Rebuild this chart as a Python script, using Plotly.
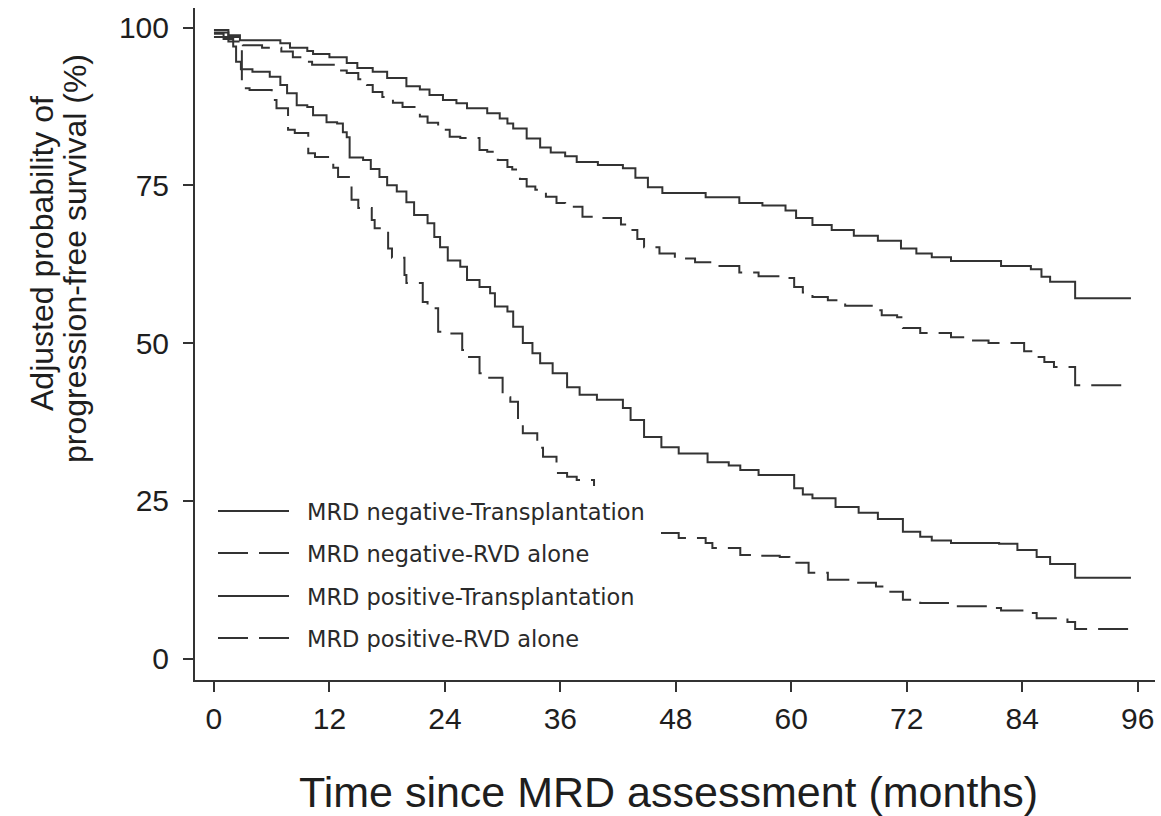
import plotly.graph_objects as go

# ---- data ----
months_neg_tx = [0, 1.5, 2.7, 6.9, 7.9, 9.7, 10.3, 12.0, 13.8, 14.9, 16.5, 18.0, 20.0, 21.4, 22.4,
                 23.8, 25.2, 26.3, 28.4, 29.7, 30.5, 31.1, 32.5, 33.9, 35.0, 36.5, 37.7, 39.9, 42.5,
                 43.8, 45.1, 46.6, 51.1, 54.6, 57.0, 59.4, 60.5, 62.2, 64.2, 66.5, 69.0, 71.4, 73.0,
                 74.6, 76.6, 81.8, 84.9, 86.0, 86.9, 89.5, 95.3]
pfs_neg_tx = [99.6, 98.8, 98.0, 97.5, 96.8, 96.3, 95.8, 95.3, 94.4, 93.6, 93.0, 92.0, 90.7, 90.2, 89.3,
              88.5, 88.0, 87.2, 86.4, 85.6, 84.8, 84.0, 82.4, 81.0, 80.2, 79.6, 78.7, 78.2, 77.7,
              76.2, 74.7, 73.8, 73.1, 72.2, 71.8, 71.0, 69.8, 68.7, 67.9, 67.0, 66.2, 65.0, 64.2,
              63.6, 63.0, 62.2, 61.7, 60.5, 59.7, 57.1, 57.1]

months_neg_rvd = [0, 1.5, 3.0, 5.0, 7.0, 8.2, 9.5, 10.2, 13.1, 13.8, 15.0, 15.9, 16.5, 17.5, 18.6,
                  19.6, 21.4, 22.2, 23.3, 24.5, 25.6, 27.6, 28.4, 29.5, 30.5, 31.0, 31.8, 32.5, 33.4,
                  34.5, 35.6, 36.5, 38.3, 39.9, 42.3, 43.1, 44.0, 44.7, 46.3, 47.9, 50.0, 51.8, 54.6,
                  56.6, 59.6, 60.3, 61.2, 62.2, 63.8, 65.6, 68.6, 69.4, 71.0, 71.6, 73.4, 76.6, 78.5,
                  80.5, 84.2, 85.3, 86.3, 87.3, 89.5, 94.8]
pfs_neg_rvd = [99.2, 98.5, 97.2, 96.8, 96.2, 95.3, 94.6, 94.1, 93.2, 92.8, 91.8, 90.9, 89.8, 89.0, 88.1,
               87.4, 85.9, 84.9, 83.8, 82.7, 82.5, 80.6, 80.3, 79.0, 77.9, 77.5, 76.0, 74.8, 74.3,
               73.2, 72.2, 71.6, 70.0, 69.8, 68.8, 67.9, 66.5, 65.2, 64.2, 63.4, 62.8, 62.2, 61.2,
               60.6, 60.3, 58.9, 58.0, 57.3, 56.8, 55.9, 55.2, 54.4, 54.1, 52.4, 51.6, 50.9, 50.4,
               50.0, 48.7, 47.8, 47.0, 46.2, 43.3, 43.3]

months_pos_tx = [0, 1.0, 2.0, 2.3, 2.8, 4.0, 5.8, 6.9, 7.6, 8.6, 9.7, 10.3, 11.7, 12.8, 13.4, 13.8,
                 14.1, 15.5, 16.3, 17.2, 18.0, 19.0, 20.0, 20.8, 22.2, 22.9, 23.5, 24.3, 25.6, 26.3,
                 27.6, 28.7, 29.2, 30.5, 31.1, 32.1, 33.1, 33.9, 35.2, 36.7, 38.0, 39.8, 42.5, 43.3,
                 44.7, 46.5, 48.3, 51.3, 53.5, 54.7, 56.6, 60.3, 61.2, 62.2, 64.6, 67.0, 69.0, 71.6,
                 73.4, 74.6, 76.6, 81.6, 83.5, 85.5, 86.9, 89.5, 95.3]
pfs_pos_tx = [99.0, 98.2, 97.0, 94.6, 93.4, 93.0, 92.2, 90.9, 89.6, 87.7, 87.4, 86.1, 85.0, 84.8, 83.4,
              82.6, 79.4, 79.0, 77.6, 76.3, 75.0, 74.0, 72.3, 70.3, 69.0, 66.8, 65.2, 63.1, 62.1,
              60.0, 58.9, 57.9, 55.8, 55.0, 52.6, 50.0, 48.4, 46.8, 45.2, 43.0, 41.8, 41.0, 39.7,
              37.8, 35.1, 33.5, 32.5, 31.1, 30.6, 29.9, 29.1, 27.0, 26.0, 25.4, 24.0, 23.1, 22.1,
              20.1, 19.3, 18.7, 18.3, 18.2, 17.2, 16.1, 15.0, 12.8, 12.8]

months_pos_rvd = [0, 1.5, 2.9, 3.7, 6.0, 6.5, 7.7, 8.4, 9.8, 10.5, 12.4, 12.9, 14.3, 15.0, 16.4,
                  16.7, 18.1, 18.5, 19.8, 20.0, 21.7, 22.2, 23.3, 24.0, 25.8, 26.1, 27.6, 28.5, 30.0,
                  30.8, 31.6, 32.1, 33.6, 34.2, 35.6, 36.7, 37.7, 39.5, 41.5, 43.5, 45.0, 46.1, 48.3,
                  51.1, 51.8, 54.7, 55.9, 58.8, 59.8, 61.8, 63.8, 66.2, 68.8, 70.0, 71.6, 73.4, 76.6,
                  80.7, 81.8, 84.9, 85.5, 88.7, 89.5, 95.3]
pfs_pos_rvd = [98.5, 97.8, 90.4, 90.1, 88.5, 87.2, 83.8, 83.3, 80.1, 79.5, 77.8, 76.3, 72.7, 71.4, 69.5,
               68.2, 65.0, 63.5, 60.8, 59.5, 56.5, 55.5, 51.8, 51.5, 48.9, 47.8, 45.2, 44.5, 41.4,
               40.7, 37.3, 35.7, 33.4, 32.0, 29.4, 28.8, 28.3, 26.5, 24.0, 22.0, 20.5, 19.9, 19.1,
               18.3, 17.5, 16.4, 16.3, 16.1, 15.2, 13.6, 12.5, 12.0, 11.4, 10.6, 9.3, 8.8, 8.3,
               8.0, 7.6, 7.2, 6.4, 5.8, 4.7, 4.7]

series_names = ["MRD negative-Transplantation", "MRD negative-RVD alone",
                "MRD positive-Transplantation", "MRD positive-RVD alone"]
x_ticks = [0, 12, 24, 36, 48, 60, 72, 84, 96]
y_ticks = [0, 25, 50, 75, 100]

LINE = "#333333"
TXT = "#1e1e1e"
DASH = "30px,11px"
ARIAL = "Arial, Liberation Sans, sans-serif"

series = [
    (series_names[0], months_neg_tx, pfs_neg_tx, "solid"),
    (series_names[1], months_neg_rvd, pfs_neg_rvd, DASH),
    (series_names[2], months_pos_tx, pfs_pos_tx, "solid"),
    (series_names[3], months_pos_rvd, pfs_pos_rvd, DASH),
]

fig = go.Figure()
for name, t, v, dash in series:
    fig.add_trace(go.Scatter(
        x=t, y=v, mode="lines", name=name, showlegend=False,
        line=dict(shape="hv", color=LINE, width=2, dash=dash),
    ))

W, H = 1161, 816
ML, MR, MT, MB = 195, 6, 8, 136
PW, PH = W - ML - MR, H - MT - MB


def px_x(p):
    return (p - ML) / PW


def px_y(p):
    return (H - MB - p) / PH


shapes = []
annotations = []

# custom legend (white box covering the curves, long line samples)
shapes.append(dict(type="rect", xref="paper", yref="paper",
                   x0=px_x(208), x1=px_x(657), y0=px_y(662), y1=px_y(486),
                   fillcolor="white", line=dict(width=0), layer="above"))
row_y = [511, 553, 596, 638]
for (name, _, _, dash), ry in zip(series, row_y):
    shapes.append(dict(type="line", xref="paper", yref="paper",
                       x0=px_x(218), x1=px_x(289), y0=px_y(ry), y1=px_y(ry),
                       line=dict(color=LINE, width=2, dash=dash),
                       layer="above"))
    annotations.append(dict(text=name, xref="paper", yref="paper",
                            x=px_x(305), y=px_y(ry + 1), xanchor="left", yanchor="middle",
                            showarrow=False,
                            font=dict(family="DejaVu Sans", size=22.5, color="#2a2a2a")))

# axis titles
annotations.append(dict(text="Time since MRD assessment (months)", xref="paper", yref="paper",
                        x=px_x(668), y=px_y(792), xanchor="center", yanchor="middle",
                        showarrow=False, font=dict(family=ARIAL, size=43, color=TXT)))
annotations.append(dict(text="Adjusted probability of", xref="paper", yref="paper",
                        x=px_x(42), y=px_y(254), xanchor="center", yanchor="middle",
                        textangle=-90, showarrow=False,
                        font=dict(family=ARIAL, size=32, color=TXT)))
annotations.append(dict(text="progression-free survival (%)", xref="paper", yref="paper",
                        x=px_x(75), y=px_y(259), xanchor="center", yanchor="middle",
                        textangle=-90, showarrow=False,
                        font=dict(family=ARIAL, size=32, color=TXT)))

fig.update_layout(
    width=W, height=H, autosize=False,
    margin=dict(l=ML, r=MR, t=MT, b=MB, pad=0),
    paper_bgcolor="white", plot_bgcolor="white",
    showlegend=False,
    shapes=shapes, annotations=annotations,
    xaxis=dict(range=[-1.97, 97.8], tickvals=x_ticks, ticktext=[str(v) for v in x_ticks],
               ticks="outside", ticklen=10, tickwidth=2, tickcolor=LINE,
               showline=True, linewidth=2, linecolor=LINE,
               showgrid=False, zeroline=False, ticklabelstandoff=1,
               tickfont=dict(family=ARIAL, size=30, color=TXT)),
    yaxis=dict(range=[-3.4, 103.1], tickvals=y_ticks, ticktext=[str(v) for v in y_ticks],
               ticks="outside", ticklen=10, tickwidth=2, tickcolor=LINE,
               showline=True, linewidth=2, linecolor=LINE,
               showgrid=False, zeroline=False, ticklabelstandoff=8,
               tickfont=dict(family=ARIAL, size=30, color=TXT)),
)

fig.write_html("out.html")
